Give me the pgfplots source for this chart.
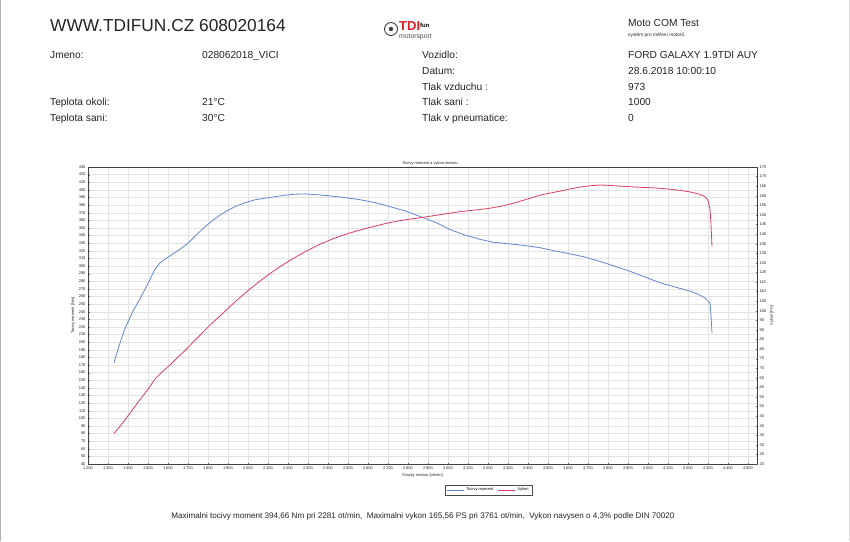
\documentclass[border=0pt]{standalone}
\usepackage{fontspec}
\setmainfont{Liberation Sans}
\usepackage{pgfplots}
\pgfplotsset{compat=1.18}
\definecolor{tq}{RGB}{95,135,205}
\definecolor{pw}{RGB}{222,62,92}
\definecolor{txt}{RGB}{35,35,35}
\definecolor{logored}{RGB}{220,30,40}

\pgfplotstableread{
rpm Nm
1330 173
1355 195
1385 218
1420 238
1460 257
1500 277
1535 296
1560 304
1585 309
1620 315
1660 322
1700 330
1735 339
1770 348
1810 357
1850 365
1885 371
1935 378
1985 383
2035 387
2085 389
2135 391
2185 393
2235 394.3
2285 394.7
2350 393.5
2410 392
2480 390
2560 387
2640 383
2710 378
2790 372
2860 365
2940 357
3010 348
3080 341
3160 335
3230 331
3310 329
3380 327
3460 324
3530 320
3610 316
3680 312
3760 306
3830 300
3910 293
3990 285
4060 278
4140 272
4210 267
4250 263
4285 258
4310 251
4315 235
4320 212
}\torque

\pgfplotstableread{
rpm PS
1330 36.0
1355 39.0
1385 43.0
1420 48.0
1460 53.6
1500 59.0
1535 64.3
1570 68.0
1610 71.7
1645 75.3
1685 79.2
1720 83.0
1760 87.2
1810 92.5
1860 97.3
1910 102.2
1960 106.9
2010 111.4
2060 115.5
2110 119.4
2160 123.0
2210 126.3
2260 129.3
2310 132.1
2360 134.7
2410 136.9
2460 138.9
2510 140.6
2560 142.1
2610 143.5
2660 144.8
2710 146.0
2760 147.0
2810 147.8
2860 148.5
2910 149.3
2960 150.1
3010 150.9
3060 151.7
3110 152.3
3160 152.8
3210 153.5
3260 154.4
3310 155.6
3360 157.1
3410 158.7
3460 160.3
3510 161.4
3560 162.4
3610 163.5
3660 164.5
3710 165.2
3760 165.6
3810 165.4
3860 165.0
3910 164.7
3960 164.4
4010 164.2
4060 163.9
4110 163.4
4160 162.8
4210 162.0
4260 160.7
4285 159.5
4300 157.5
4310 153.0
4315 145.0
4320 133.6
}\power

\begin{document}
\begin{tikzpicture}
\useasboundingbox (0pt,0pt) rectangle (850pt,541pt);
\fill[white] (0pt,0pt) rectangle (850pt,541pt);

\begin{scope}[x=1pt,y=1pt]
\draw[black!30, line width=1.2pt] (0.6,0) -- (0.6,541);
\draw[black!15, line width=0.8pt] (849.4,0) -- (849.4,541);
% header
\node[anchor=base west, text=txt, font=\fontsize{17.3}{20}\selectfont, inner sep=0] at (50,541-32) {WWW.TDIFUN.CZ 608020164};
\begin{scope}[every node/.style={anchor=base west, text=txt, font=\fontsize{10.2}{12}\selectfont, inner sep=0}]
\node at (50,541-59) {Jmeno:};
\node at (202,541-59) {028062018\_VICI};
\node at (50,541-106) {Teplota okoli:};
\node at (202,541-106) {21°C};
\node at (50,541-122) {Teplota sani:};
\node at (202,541-122) {30°C};
\node at (422,541-59) {Vozidlo:};
\node at (422,541-75) {Datum:};
\node at (422,541-91) {Tlak vzduchu :};
\node at (422,541-106) {Tlak sani :};
\node at (422,541-122) {Tlak v pneumatice:};
\node at (628,541-59) {FORD GALAXY 1.9TDI AUY};
\node at (628,541-75) {28.6.2018 10:00:10};
\node at (628,541-91) {973};
\node at (628,541-106) {1000};
\node at (628,541-122) {0};
\node at (628,541-27) {Moto COM Test};
\end{scope}
\node[anchor=base west, text=txt, font=\fontsize{4.8}{5}\selectfont, inner sep=0] at (628,541-37) {systém pro měření motorů};
% logo
\draw[black!75, line width=0.9pt] (391,541-29) circle (6.5);
\fill[black!75] (391,541-29) circle (2.2);
\node[anchor=base west, font=\fontsize{13}{13}\selectfont\bfseries, inner sep=0] at (399,541-31) {\textcolor{logored}{TDI}\raisebox{3pt}{\fontsize{6}{6}\selectfont fun}};
\node[anchor=base west, text=black!70, font=\fontsize{6.8}{7}\selectfont, inner sep=0] at (399,541-39) {motorsport};
% chart title
\node[text=txt, font=\fontsize{4}{4}\selectfont, inner sep=0] at (430,541-163) {Tocivy moment a vykon motoru};
% footer
\node[text=txt, font=\fontsize{8.1}{9}\selectfont, inner sep=0] at (423,541-516) {Maximalni tocivy moment 394,66 Nm pri 2281 ot/min,\ \ Maximalni vykon 165,56 PS pri 3761 ot/min,\ \ Vykon navysen o 4,3\% podle DIN 70020};
\end{scope}

\begin{axis}[
  at={(88pt,77pt)}, anchor=south west,
  scale only axis, width=669pt, height=297pt,
  xmin=1200, xmax=4545, ymin=40, ymax=430,
  xtick={1200,1300,...,4500},
  ytick={40,50,...,430},
  xtick pos=bottom, ytick pos=left,
  grid=major, grid style={black!11, line width=0.3pt},
  axis line style={black!75, line width=0.5pt},
  major tick length=1.5pt,
  tick style={black!60},
  tick label style={font=\fontsize{4}{4}\selectfont, text=txt},
  label style={font=\fontsize{4}{4}\selectfont, text=txt},
  /pgf/number format/assume math mode=true,
  /pgf/number format/1000 sep={\,},
  xlabel={Otacky motoru [ot/min]},
  ylabel={Tocivy moment [Nm]},
  xlabel style={yshift=3pt},
  ylabel style={yshift=-3pt},
  xticklabel style={yshift=1pt},
  yticklabel style={xshift=1pt},
]
\addplot[tq, line width=0.8pt] table[x=rpm, y=Nm] {\torque};
\end{axis}

\begin{axis}[
  at={(88pt,77pt)}, anchor=south west,
  scale only axis, width=669pt, height=297pt,
  xmin=1200, xmax=4545, ymin=20, ymax=175,
  axis y line*=right, axis x line=none,
  ytick={20,25,...,175},
  axis line style={black!75, line width=0.5pt},
  major tick length=1.5pt,
  tick style={black!60},
  tick label style={font=\fontsize{4}{4}\selectfont, text=txt},
  label style={font=\fontsize{4}{4}\selectfont, text=txt},
  /pgf/number format/assume math mode=true,
  ylabel={Vykon [PS]},
  ylabel style={yshift=3pt},
  yticklabel style={xshift=-1pt},
  legend columns=2,
  legend style={at={(0.599,-0.0875)}, anchor=center, font=\fontsize{4}{4}\selectfont,
    draw=black!70, line width=0.4pt, inner xsep=2pt, inner ysep=1pt,
    /tikz/every even column/.append style={column sep=3pt}},
  legend image post style={line width=0.5pt},
  legend cell align=left,
]
\addlegendimage{tq, line width=0.8pt}
\addlegendentry{Tocivy moment}
\addplot[pw, line width=0.8pt] table[x=rpm, y=PS] {\power};
\addlegendentry{Vykon\hspace{18pt}}
\end{axis}
\end{tikzpicture}
\end{document}
